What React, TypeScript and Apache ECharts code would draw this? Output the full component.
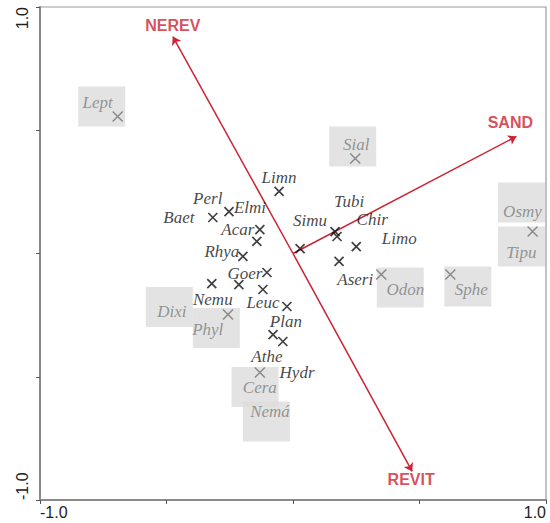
import React, { useEffect, useRef } from "react";
import * as echarts from "echarts";

// Species markers (data coordinates)
const blackMarkers: [number, number][] = [
  [-0.055, 0.252], [-0.253, 0.170], [-0.317, 0.146], [-0.131, 0.097],
  [-0.143, 0.049], [-0.198, -0.012], [-0.103, -0.077], [-0.214, -0.126],
  [-0.321, -0.122], [-0.119, -0.146], [-0.024, -0.215], [-0.079, -0.329],
  [-0.040, -0.357], [0.028, 0.020], [0.166, 0.089], [0.174, 0.069],
  [0.250, 0.028], [0.182, -0.032],
];
const greyMarkers: [number, number][] = [
  [-0.693, 0.556], [0.246, 0.385], [-0.131, -0.483], [-0.257, -0.247],
  [0.349, -0.085], [0.622, -0.085], [0.947, 0.089],
];

// Species labels
const blackNames = ["Limn", "Perl", "Elmi", "Baet", "Acar", "Rhya", "Goer", "Nemu", "Leuc", "Plan", "Athe", "Hydr", "Simu", "Tubi", "Chir", "Limo", "Aseri"];
const blackLabelX = [-0.055, -0.337, -0.170, -0.451, -0.218, -0.281, -0.190, -0.317, -0.119, -0.028, -0.103, 0.016, 0.067, 0.222, 0.313, 0.420, 0.246];
const blackLabelY = [0.308, 0.223, 0.187, 0.146, 0.097, 0.008, -0.081, -0.187, -0.199, -0.276, -0.418, -0.483, 0.134, 0.211, 0.138, 0.061, -0.105];

const greyNames = ["Lept", "Sial", "Osmy", "Tipu", "Odon", "Sphe", "Dixi", "Phyl", "Cera", "Nemá"];
const greyLabelX = [-0.772, 0.250, 0.907, 0.903, 0.444, 0.705, -0.479, -0.337, -0.131, -0.091];
const greyLabelY = [0.613, 0.442, 0.170, 0.004, -0.146, -0.146, -0.235, -0.308, -0.544, -0.641];
const greyBoxX = [-0.756, 0.236, 0.903, 0.903, 0.424, 0.691, -0.489, -0.303, -0.150, -0.105];
const greyBoxY = [0.596, 0.434, 0.207, 0.028, -0.138, -0.134, -0.217, -0.302, -0.542, -0.682];

// Environmental variables (arrows)
const envNames = ["NEREV", "SAND", "REVIT"];
const envX = [-0.475, 0.883, 0.471];
const envY = [0.880, 0.475, -0.884];
const envLabelX = [-0.475, 0.859, 0.467];
const envLabelY = [0.925, 0.531, -0.917];

const RED = "#cc2232";

export default function App() {
  const ref = useRef<HTMLDivElement>(null);
  useEffect(() => {
    document.body.style.margin = "0";
    if (!ref.current) return;
    const chart = echarts.init(ref.current, undefined, { renderer: "svg" });
    const crossPath = "path://M0 0L10 10M10 0L0 10";
    const serif = "Liberation Serif, Times New Roman, serif";
    const option: any = {
      animation: false,
      grid: { left: 40, right: 4, top: 7, bottom: 23, show: true, borderColor: "#9a9a9a", borderWidth: 1.2 },
      xAxis: {
        type: "value", min: -1, max: 1, interval: 0.5,
        axisLine: { show: true, onZero: false, lineStyle: { color: "#8a8a8a", width: 2 } },
        axisTick: { show: true, length: 4, lineStyle: { color: "#555", width: 1 } },
        splitLine: { show: false },
        axisLabel: {
          margin: 4, fontSize: 16, color: "#222", fontFamily: "Liberation Sans, Arial, sans-serif",
          alignMinLabel: "left", alignMaxLabel: "right",
          formatter: (v: number) => (Math.abs(v) === 1 ? v.toFixed(1) : ""),
        },
      },
      yAxis: {
        type: "value", min: -1, max: 1, interval: 0.5,
        axisLine: { show: true, onZero: false, lineStyle: { color: "#8a8a8a", width: 2 } },
        axisTick: { show: true, length: 4, lineStyle: { color: "#555", width: 1 } },
        splitLine: { show: false },
        axisLabel: {
          rotate: 90, margin: 10, fontSize: 16, color: "#222", fontFamily: "Liberation Sans, Arial, sans-serif",
          alignMinLabel: "left", alignMaxLabel: "right",
          formatter: (v: number) => (Math.abs(v) === 1 ? v.toFixed(1) : ""),
        },
      },
      series: [
        {
          type: "scatter", z: 1, symbol: "rect", symbolSize: [47, 40], silent: true,
          itemStyle: { color: "#dcdcdc" },
          data: greyBoxX.map((x, i) => [x, greyBoxY[i]]),
        },
        {
          type: "lines", coordinateSystem: "cartesian2d", z: 3,
          symbol: ["none", "arrow"], symbolSize: 8,
          lineStyle: { color: RED, width: 1.5, opacity: 1 },
          data: envX.map((x, i) => ({ coords: [[0, 0], [x, envY[i]]] })),
        },
        {
          type: "scatter", z: 4, symbol: crossPath, symbolSize: 9,
          itemStyle: { color: "transparent", borderColor: "#111", borderWidth: 1.7 },
          data: blackMarkers,
        },
        {
          type: "scatter", z: 4, symbol: crossPath, symbolSize: 10,
          itemStyle: { color: "transparent", borderColor: "#707070", borderWidth: 1.4 },
          data: greyMarkers,
        },
        {
          type: "scatter", z: 5, symbolSize: 1, itemStyle: { color: "transparent" },
          label: {
            show: true, position: "inside", formatter: "{b}", fontSize: 17,
            fontStyle: "italic", fontFamily: serif, color: "#141414",
          },
          data: blackNames.map((n, i) => ({ name: n, value: [blackLabelX[i], blackLabelY[i]] })),
        },
        {
          type: "scatter", z: 5, symbolSize: 1, itemStyle: { color: "transparent" },
          label: {
            show: true, position: "inside", formatter: "{b}", fontSize: 17,
            fontStyle: "italic", fontFamily: serif, color: "#7d7d7d",
          },
          data: greyNames.map((n, i) => ({ name: n, value: [greyLabelX[i], greyLabelY[i]] })),
        },
        {
          type: "scatter", z: 5, symbolSize: 1, itemStyle: { color: "transparent" },
          label: {
            show: true, position: "inside", formatter: "{b}", fontSize: 16, fontWeight: "bold",
            fontFamily: "Liberation Sans, Arial, sans-serif", color: RED,
          },
          data: envNames.map((n, i) => ({ name: n, value: [envLabelX[i], envLabelY[i]] })),
        },
      ],
    };
    chart.setOption(option);
    return () => chart.dispose();
  }, []);
  return <div ref={ref} style={{ width: 550, height: 523 }} />;
}
